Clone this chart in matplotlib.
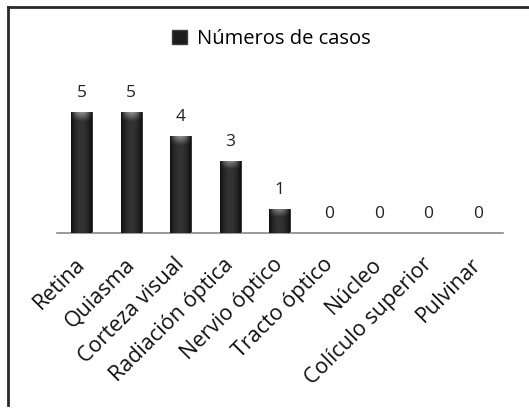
import matplotlib
matplotlib.use("Agg")
import matplotlib.pyplot as plt
import matplotlib.transforms as mtransforms
import numpy as np
from matplotlib.lines import Line2D
from matplotlib.patches import Patch

categories = ["Retina", "Quiasma", "Corteza visual", "Radiación óptica", "Nervio óptico",
              "Tracto óptico", "Núcleo", "Colículo superior", "Pulvinar"]
values = [5, 5, 4, 3, 1, 0, 0, 0, 0]
series_name = "Números de casos"

plt.rcParams['font.family'] = ['Open Sans', 'DejaVu Sans']

fig = plt.figure(figsize=(5.29, 4.09), dpi=100)
ax = fig.add_axes([0.108, 0.430, 0.842, 0.355])

x = list(range(len(categories)))
bars = ax.bar(x, values, width=0.42, color='#1c1c1c', edgecolor='#2a2a2a', linewidth=0.6,
              label=series_name, zorder=2)

# shading inside each bar (horizontal dark-edge gradient + light top cap)
gx = np.linspace(-1, 1, 64)
horiz = 0.06 + 0.14 * (1 - gx ** 2)
for b in bars:
    h = b.get_height()
    if h <= 0:
        continue
    x0, w = b.get_x(), b.get_width()
    ny = 100
    ys = np.linspace(0, 1, ny)[:, None]
    cap_px = 0.35 / h
    cap = np.clip((ys - (1 - cap_px)) / cap_px, 0, 1)
    img = horiz[None, :] + 0.35 * cap * (1 - np.abs(gx[None, :]) ** 2)
    img = np.clip(img, 0, 1)
    im = ax.imshow(img, cmap='gray', vmin=0, vmax=1, origin='lower',
                   extent=[x0, x0 + w, 0, h], aspect='auto', zorder=3,
                   interpolation='bilinear')
    im.set_clip_path(b)

for xi, v in zip(x, values):
    ax.text(xi, v + 0.45, str(v), ha='center', va='bottom', fontsize=12.5, color='#222222')

ax.set_xlim(-0.5, len(categories) - 0.5)
ax.set_ylim(0, 6)
ax.set_xticks(x)
ax.set_xticklabels(categories, rotation=45, ha='right', rotation_mode='anchor',
                   fontsize=15.5, color='#111111')
ax.tick_params(axis='x', length=0, pad=15)
offset = mtransforms.ScaledTranslation(-7 / 100, 0, fig.dpi_scale_trans)
for lab in ax.get_xticklabels():
    lab.set_transform(lab.get_transform() + offset)
ax.set_yticks([])
for s in ['top', 'right', 'left']:
    ax.spines[s].set_visible(False)
ax.spines['bottom'].set_color('#888888')
ax.spines['bottom'].set_linewidth(1.2)

handle = Patch(facecolor='#1c1c1c', edgecolor='#3a3a3a')
fig.legend([handle], [series_name], loc='center', bbox_to_anchor=(0.513, 0.905),
           frameon=False, fontsize=14.5, handlelength=0.7, handleheight=0.7,
           handletextpad=0.5)

# outer border (top and left)
fig.add_artist(Line2D([0.015, 1.0], [0.983, 0.983], color='#2a2a2a', lw=2.0,
                      transform=fig.transFigure))
fig.add_artist(Line2D([0.016, 0.016], [0.010, 0.983], color='#2a2a2a', lw=2.0,
                      transform=fig.transFigure))

fig.savefig("out.png", dpi=100)
